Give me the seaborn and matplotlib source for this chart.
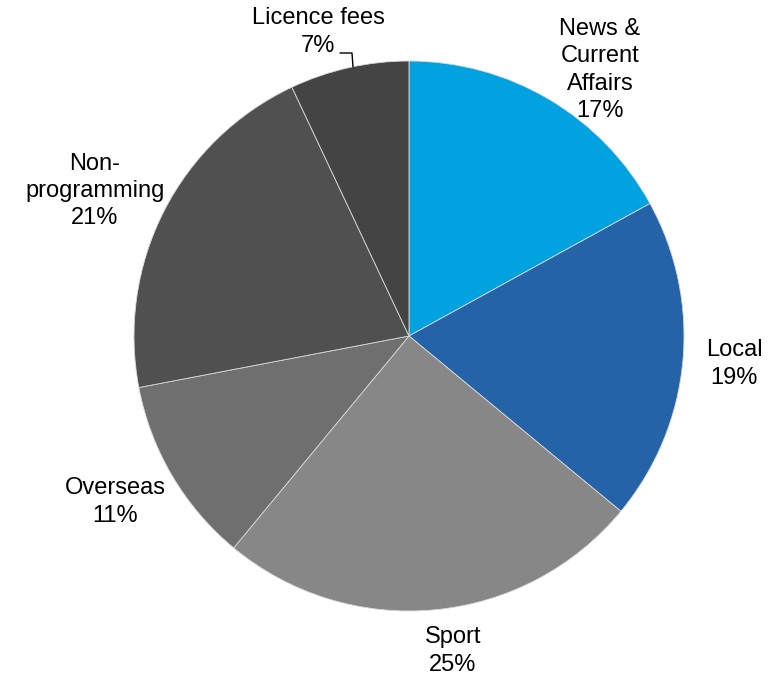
import matplotlib
matplotlib.use("Agg")
import matplotlib.pyplot as plt
import seaborn as sns

# Share of spend by genre
categories = ["News &\nCurrent\nAffairs", "Local", "Sport", "Overseas",
              "Non-\nprogramming", "Licence fees"]
shares = [17, 19, 25, 11, 21, 7]
colors = ["#00A3E0", "#2563A8", "#878787", "#6F6F6F", "#505050", "#444444"]

# label anchor points (figure pixels, top-left origin)
label_xy = [(600, 70), (734, 364), (453, 651), (115, 502), (95, 191), (318, 32)]

sns.set_style("white")
plt.rcParams["font.family"] = ["Liberation Sans", "DejaVu Sans"]

W, H = 775, 678
fig = plt.figure(figsize=(W / 100, H / 100), dpi=100)
ax = fig.add_axes([0, 0, 1, 1])

cx, cy, r = 409, H - 336, 275
ax.pie(shares, colors=colors, startangle=90, counterclock=False,
       center=(cx, cy), radius=r, frame=True,
       wedgeprops=dict(edgecolor="#d9d9d9", linewidth=0.6))
ax.set_xlim(0, W)
ax.set_ylim(0, H)
ax.set_aspect("equal")
ax.axis("off")

for name, val, (x, y) in zip(categories, shares, label_xy):
    ax.text(x, H - y, f"{name}\n{val}%", ha="center", va="center",
            fontsize=17, linespacing=1.3, color="#000000")

# leader line for the small slice
ax.plot([340, 352, 353], [H - 53, H - 53, H - 67], color="#000000", lw=1.0)

fig.savefig("out.png", dpi=100, facecolor="white")
